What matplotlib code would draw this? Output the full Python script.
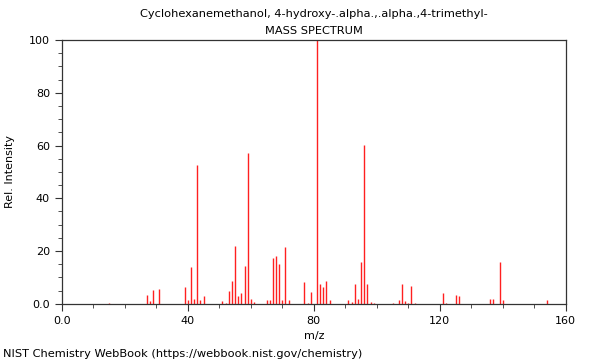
import numpy as np
import matplotlib
matplotlib.use("Agg")
import matplotlib.pyplot as plt
from matplotlib.ticker import MultipleLocator, FixedFormatter, FixedLocator

# peaks (m/z, relative intensity)
mz = [15, 27, 28, 29, 31, 39, 40, 41, 42, 43, 44, 45, 51, 52, 53, 54, 55, 56,
      57, 58, 59, 60, 61, 65, 66, 67, 68, 69, 70, 71, 72, 77, 78, 79, 81, 82,
      83, 84, 85, 91, 92, 93, 94, 95, 96, 97, 98, 99, 105, 107, 108, 109, 110,
      111, 112, 121, 122, 125, 126, 136, 137, 139, 140, 154]
intensity = [0.4, 3.5, 0.9, 5.1, 5.7, 6.2, 1.3, 14.1, 2.0, 52.5, 1.3, 3.0, 0.9,
             0.4, 4.9, 8.6, 22.1, 2.8, 4.0, 14.5, 57.1, 1.9, 0.6, 1.3, 1.3, 17.3,
             18.3, 15.0, 1.5, 21.7, 1.3, 8.1, 0.5, 4.4, 100, 7.7, 6.2, 8.5, 1.3,
             1.5, 0.8, 7.6, 1.9, 15.7, 60.2, 7.6, 0.8, 0.5, 0.4, 1.6, 7.6, 0.9,
             0.5, 6.6, 0.5, 4.2, 0.5, 3.5, 2.8, 2.0, 2.0, 16.0, 1.5, 1.3]

title = "Cyclohexanemethanol, 4-hydroxy-.alpha.,.alpha.,4-trimethyl-\nMASS SPECTRUM"
x_ticks = [0, 40, 80, 120, 160]
x_labels = ["0.0", "40", "80", "120", "160"]
y_ticks = [0, 20, 40, 60, 80, 100]
y_labels = ["0.0", "20", "40", "60", "80", "100"]

fig = plt.figure(figsize=(6, 3.6), dpi=100)
ax = fig.add_axes([0.103, 0.156, 0.84, 0.733])

ax.vlines(mz, 0, intensity, colors="#ff2020", linewidth=1.0)

ax.set_xlim(0, 160)
ax.set_ylim(0, 100)
ax.xaxis.set_major_locator(FixedLocator(x_ticks))
ax.xaxis.set_major_formatter(FixedFormatter(x_labels))
ax.yaxis.set_major_locator(FixedLocator(y_ticks))
ax.yaxis.set_major_formatter(FixedFormatter(y_labels))
ax.xaxis.set_minor_locator(MultipleLocator(10))
ax.yaxis.set_minor_locator(MultipleLocator(5))
ax.tick_params(which="major", length=5, width=0.8, labelsize=8, colors="#333333")
ax.tick_params(which="minor", length=3, width=0.6, colors="#333333")
ax.tick_params(labelcolor="black")
for s in ax.spines.values():
    s.set_color("#333333")
    s.set_linewidth(0.9)

ax.set_xlabel("m/z", fontsize=8)
ax.set_ylabel("Rel. Intensity", fontsize=8, labelpad=10)
ax.set_title(title, fontsize=8.2, linespacing=1.8, pad=4.5)

fig.text(0.005, 0.008, "NIST Chemistry WebBook (https://webbook.nist.gov/chemistry)",
         fontsize=8.2)

fig.savefig("out.png", dpi=100)
